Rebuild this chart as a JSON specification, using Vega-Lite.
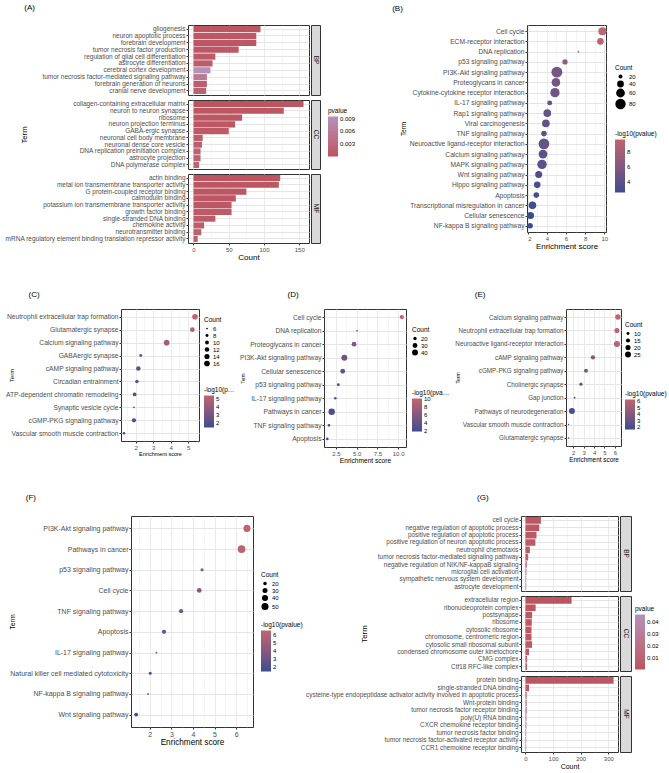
{
  "$schema": "https://vega.github.io/schema/vega-lite/v6.json",
  "background": "white",
  "padding": {"left": 2, "top": 3, "right": 2, "bottom": 2},
  "datasets": {
    "goA": [
      {"cat": "BP", "term": "gliogenesis", "count": 95, "p": 0.0002},
      {"cat": "BP", "term": "neuron apoptotic process", "count": 89, "p": 0.0004},
      {"cat": "BP", "term": "forebrain development", "count": 89, "p": 0.0003},
      {"cat": "BP", "term": "tumor necrosis factor production", "count": 64, "p": 0.0006},
      {"cat": "BP", "term": "regulation of glial cell differentiation", "count": 31, "p": 0.001},
      {"cat": "BP", "term": "astrocyte differentiation", "count": 27, "p": 0.0012},
      {"cat": "BP", "term": "cerebral cortex development", "count": 24, "p": 0.0095},
      {"cat": "BP", "term": "tumor necrosis factor-mediated signaling pathway", "count": 19, "p": 0.0058},
      {"cat": "BP", "term": "forebrain generation of neurons", "count": 19, "p": 0.0015},
      {"cat": "BP", "term": "cranial nerve development", "count": 18, "p": 0.0018},
      {"cat": "CC", "term": "collagen-containing extracellular matrix", "count": 156, "p": 0.0001},
      {"cat": "CC", "term": "neuron to neuron synapse", "count": 128, "p": 0.0002},
      {"cat": "CC", "term": "ribosome", "count": 69, "p": 0.0003},
      {"cat": "CC", "term": "neuron projection terminus", "count": 59, "p": 0.0005},
      {"cat": "CC", "term": "GABA-ergic synapse", "count": 50, "p": 0.0008},
      {"cat": "CC", "term": "neuronal cell body membrane", "count": 13, "p": 0.0012},
      {"cat": "CC", "term": "neuronal dense core vesicle", "count": 12, "p": 0.0015},
      {"cat": "CC", "term": "DNA replication preinitiation complex", "count": 10, "p": 0.0018},
      {"cat": "CC", "term": "astrocyte projection", "count": 10, "p": 0.002},
      {"cat": "CC", "term": "DNA polymerase complex", "count": 8, "p": 0.0022},
      {"cat": "MF", "term": "actin binding", "count": 123, "p": 0.0001},
      {"cat": "MF", "term": "metal ion transmembrane transporter activity", "count": 121, "p": 0.0002},
      {"cat": "MF", "term": "G protein-coupled receptor binding", "count": 75, "p": 0.0003},
      {"cat": "MF", "term": "calmodulin binding", "count": 60, "p": 0.0004},
      {"cat": "MF", "term": "potassium ion transmembrane transporter activity", "count": 54, "p": 0.0006},
      {"cat": "MF", "term": "growth factor binding", "count": 54, "p": 0.0008},
      {"cat": "MF", "term": "single-stranded DNA binding", "count": 31, "p": 0.001},
      {"cat": "MF", "term": "chemokine activity", "count": 15, "p": 0.0014},
      {"cat": "MF", "term": "neurotransmitter binding", "count": 11, "p": 0.0018},
      {"cat": "MF", "term": "mRNA regulatory element binding translation repressor activity", "count": 6, "p": 0.0021}
    ],
    "goG": [
      {"cat": "BP", "term": "cell cycle", "count": 56, "p": 0.001},
      {"cat": "BP", "term": "negative regulation of apoptotic process", "count": 50, "p": 0.002},
      {"cat": "BP", "term": "positive regulation of apoptotic process", "count": 40, "p": 0.003},
      {"cat": "BP", "term": "positive regulation of neuron apoptotic process", "count": 36, "p": 0.004},
      {"cat": "BP", "term": "neutrophil chemotaxis", "count": 16, "p": 0.005},
      {"cat": "BP", "term": "tumor necrosis factor-mediated signaling pathway", "count": 10, "p": 0.008},
      {"cat": "BP", "term": "negative regulation of NIK/NF-kappaB signaling", "count": 5, "p": 0.012},
      {"cat": "BP", "term": "microglial cell activation", "count": 4, "p": 0.035},
      {"cat": "BP", "term": "sympathetic nervous system development", "count": 3, "p": 0.04},
      {"cat": "BP", "term": "astrocyte development", "count": 3, "p": 0.042},
      {"cat": "CC", "term": "extracellular region", "count": 167, "p": 0.0005},
      {"cat": "CC", "term": "ribonucleoprotein complex", "count": 37, "p": 0.001},
      {"cat": "CC", "term": "postsynapse", "count": 24, "p": 0.002},
      {"cat": "CC", "term": "ribosome", "count": 23, "p": 0.002},
      {"cat": "CC", "term": "cytosolic ribosome", "count": 22, "p": 0.003},
      {"cat": "CC", "term": "chromosome, centromeric region", "count": 22, "p": 0.004},
      {"cat": "CC", "term": "cytosolic small ribosomal subunit", "count": 24, "p": 0.005},
      {"cat": "CC", "term": "condensed chromosome outer kinetochore", "count": 13, "p": 0.006},
      {"cat": "CC", "term": "CMG complex", "count": 6, "p": 0.008},
      {"cat": "CC", "term": "Ctf18 RFC-like complex", "count": 6, "p": 0.009},
      {"cat": "MF", "term": "protein binding", "count": 319, "p": 0.001},
      {"cat": "MF", "term": "single-stranded DNA binding", "count": 13, "p": 0.005},
      {"cat": "MF", "term": "cysteine-type endopeptidase activator activity involved in apoptotic process", "count": 5, "p": 0.02},
      {"cat": "MF", "term": "Wnt-protein binding", "count": 5, "p": 0.03},
      {"cat": "MF", "term": "tumor necrosis factor receptor binding", "count": 5, "p": 0.03},
      {"cat": "MF", "term": "poly(U) RNA binding", "count": 4, "p": 0.035},
      {"cat": "MF", "term": "CXCR chemokine receptor binding", "count": 4, "p": 0.035},
      {"cat": "MF", "term": "tumor necrosis factor binding", "count": 3, "p": 0.04},
      {"cat": "MF", "term": "tumor necrosis factor-activated receptor activity", "count": 3, "p": 0.04},
      {"cat": "MF", "term": "CCR1 chemokine receptor binding", "count": 3, "p": 0.045}
    ],
    "strips": [{"cat": "BP"}, {"cat": "CC"}, {"cat": "MF"}],
    "keggB": [
      {"term": "Cell cycle", "es": 9.8, "count": 52, "lp": 9.6},
      {"term": "ECM-receptor interaction", "es": 9.6, "count": 38, "lp": 9.2},
      {"term": "DNA replication", "es": 7.3, "count": 12, "lp": 8.0},
      {"term": "p53 signaling pathway", "es": 5.9, "count": 28, "lp": 6.6},
      {"term": "PI3K-Akt signaling pathway", "es": 5.05, "count": 88, "lp": 5.4},
      {"term": "Proteoglycans in cancer", "es": 4.95, "count": 58, "lp": 5.2},
      {"term": "Cytokine-cytokine receptor interaction", "es": 4.85, "count": 66, "lp": 5.0},
      {"term": "IL-17 signaling pathway", "es": 4.3, "count": 26, "lp": 4.3},
      {"term": "Rap1 signaling pathway", "es": 4.05, "count": 48, "lp": 4.4},
      {"term": "Viral carcinogenesis", "es": 3.9, "count": 48, "lp": 4.2},
      {"term": "TNF signaling pathway", "es": 3.7, "count": 30, "lp": 3.9},
      {"term": "Neuroactive ligand-receptor interaction", "es": 3.7, "count": 85, "lp": 4.4},
      {"term": "Calcium signaling pathway", "es": 3.6, "count": 60, "lp": 4.0},
      {"term": "MAPK signaling pathway", "es": 3.5, "count": 68, "lp": 3.9},
      {"term": "Wnt signaling pathway", "es": 3.15, "count": 42, "lp": 3.4},
      {"term": "Hippo signaling pathway", "es": 3.0, "count": 38, "lp": 3.2},
      {"term": "Apoptosis", "es": 2.9, "count": 30, "lp": 3.0},
      {"term": "Transcriptional misregulation in cancer", "es": 2.5, "count": 48, "lp": 2.9},
      {"term": "Cellular senescence", "es": 2.3, "count": 42, "lp": 2.7},
      {"term": "NF-kappa B signaling pathway", "es": 2.25, "count": 30, "lp": 2.6}
    ],
    "keggC": [
      {"term": "Neutrophil extracellular trap formation", "es": 5.39, "count": 16, "lp": 5.4},
      {"term": "Glutamatergic synapse", "es": 5.24, "count": 13, "lp": 5.1},
      {"term": "Calcium signaling pathway", "es": 3.77, "count": 16, "lp": 4.2},
      {"term": "GABAergic synapse", "es": 2.29, "count": 8, "lp": 2.4},
      {"term": "cAMP signaling pathway", "es": 2.15, "count": 12, "lp": 2.3},
      {"term": "Circadian entrainment", "es": 2.07, "count": 9, "lp": 2.1},
      {"term": "ATP-dependent chromatin remodeling", "es": 1.94, "count": 10, "lp": 2.0},
      {"term": "Synaptic vesicle cycle", "es": 1.9, "count": 6, "lp": 1.8},
      {"term": "cGMP-PKG signaling pathway", "es": 1.9, "count": 11, "lp": 1.8},
      {"term": "Vascular smooth muscle contraction", "es": 1.33, "count": 7, "lp": 1.4}
    ],
    "keggD": [
      {"term": "Cell cycle", "es": 10.45, "count": 26, "lp": 10.2},
      {"term": "DNA replication", "es": 5.04, "count": 13, "lp": 6.2},
      {"term": "Proteoglycans in cancer", "es": 4.68, "count": 30, "lp": 5.8},
      {"term": "PI3K-Akt signaling pathway", "es": 3.51, "count": 40, "lp": 4.6},
      {"term": "Cellular senescence", "es": 3.31, "count": 30, "lp": 4.2},
      {"term": "p53 signaling pathway", "es": 2.78, "count": 18, "lp": 3.3},
      {"term": "IL-17 signaling pathway", "es": 2.42, "count": 16, "lp": 2.8},
      {"term": "Pathways in cancer", "es": 1.98, "count": 46, "lp": 2.6},
      {"term": "TNF signaling pathway", "es": 1.65, "count": 16, "lp": 2.0},
      {"term": "Apoptosis", "es": 1.45, "count": 16, "lp": 1.8}
    ],
    "keggE": [
      {"term": "Calcium signaling pathway", "es": 6.29, "count": 22, "lp": 6.3},
      {"term": "Neutrophil extracellular trap formation", "es": 6.2, "count": 20, "lp": 6.1},
      {"term": "Neuroactive ligand-receptor interaction", "es": 6.2, "count": 26, "lp": 5.9},
      {"term": "cAMP signaling pathway", "es": 3.89, "count": 16, "lp": 4.1},
      {"term": "cGMP-PKG signaling pathway", "es": 3.22, "count": 14, "lp": 3.5},
      {"term": "Cholinergic synapse", "es": 2.74, "count": 11, "lp": 3.0},
      {"term": "Gap junction", "es": 2.13, "count": 7, "lp": 2.3},
      {"term": "Pathways of neurodegeneration", "es": 1.87, "count": 26, "lp": 2.0},
      {"term": "Vascular smooth muscle contraction", "es": 1.55, "count": 6, "lp": 1.6},
      {"term": "Glutamatergic synapse", "es": 1.55, "count": 6, "lp": 1.6}
    ],
    "keggF": [
      {"term": "PI3K-Akt signaling pathway", "es": 6.5, "count": 50, "lp": 6.6},
      {"term": "Pathways in cancer", "es": 6.25, "count": 58, "lp": 6.4},
      {"term": "p53 signaling pathway", "es": 4.42, "count": 18, "lp": 4.4},
      {"term": "Cell cycle", "es": 4.29, "count": 28, "lp": 4.2},
      {"term": "TNF signaling pathway", "es": 3.45, "count": 24, "lp": 3.5},
      {"term": "Apoptosis", "es": 2.66, "count": 24, "lp": 3.0},
      {"term": "IL-17 signaling pathway", "es": 2.31, "count": 12, "lp": 2.3},
      {"term": "Natural killer cell mediated cytotoxicity", "es": 2.02, "count": 17, "lp": 2.0},
      {"term": "NF-kappa B signaling pathway", "es": 1.92, "count": 12, "lp": 1.8},
      {"term": "Wnt signaling pathway", "es": 1.37, "count": 21, "lp": 1.5}
    ]
  },
  "spacing": 28,
  "resolve": {"scale": {"color": "independent", "size": "independent"}, "legend": {"color": "independent", "size": "independent"}},
  "vconcat": [
    {
      "spacing": -5,
      "resolve": {"scale": {"color": "independent", "size": "independent"}, "legend": {"color": "independent", "size": "independent"}},
      "hconcat": [
        {"width": 1, "height": 1, "data": {"name": "strips"}, "mark": {"type": "point", "opacity": 0}, "view": {"stroke": null}},
        {
          "spacing": 35,
          "resolve": {"scale": {"color": "independent", "size": "independent"}, "legend": {"color": "independent", "size": "independent"}},
          "hconcat": [
            {
              "title": {"text": "(A)", "dx": 20, "offset": 13},
              "columns": 2,
              "align": "each",
              "spacing": {"row": 3, "column": 0},
              "concat": [
                {
                  "width": 121, "height": 70,
                  "data": {"name": "goA"},
                  "transform": [{"filter": "datum.cat === 'BP'"}],
                  "mark": "bar",
                  "encoding": {
                    "y": {"field": "term", "type": "nominal", "sort": null, "title": null, "scale": {"paddingInner": 0.1, "paddingOuter": 0.15}, "axis": {"grid": true, "bandPosition": 0.5, "labelFontSize": 6.5}},
                    "x": {"field": "count", "type": "quantitative", "title": null, "scale": {"domain": [-7.8, 163.8], "nice": false, "zero": false},
                      "axis": {"labels": false, "ticks": false, "values": [0, 25, 50, 75, 100, 125, 150], "gridWidth": {"condition": {"test": "datum.value % 50 === 0", "value": 0.8}, "value": 0.4}}},
                    "color": {"field": "p", "type": "quantitative", "title": "pvalue", "scale": {"domain": [0.0001, 0.0095], "range": ["#BC5560", "#B391BA"], "interpolate": "lab"},
                      "legend": {"values": [0.003, 0.006, 0.009], "format": ".3f", "gradientLength": 40, "orient": "none", "legendX": 140, "legendY": 83}}
                  }
                },
                {
                  "width": 9, "height": 70,
                  "data": {"name": "strips"},
                  "transform": [{"filter": "datum.cat === 'BP'"}],
                  "view": {"fill": "#D9D9D9", "stroke": "#333333"},
                  "mark": {"type": "text", "angle": 90, "fontSize": 6.5, "color": "#1A1A1A"},
                  "encoding": {"text": {"field": "cat"}}
                },
                {
                  "width": 121, "height": 69,
                  "data": {"name": "goA"},
                  "transform": [{"filter": "datum.cat === 'CC'"}],
                  "mark": "bar",
                  "encoding": {
                    "y": {"field": "term", "type": "nominal", "sort": null, "title": "Term", "scale": {"paddingInner": 0.1, "paddingOuter": 0.15}, "axis": {"grid": true, "bandPosition": 0.5, "labelFontSize": 6.5, "titleFontSize": 7.7, "titlePadding": 44}},
                    "x": {"field": "count", "type": "quantitative", "title": null, "scale": {"domain": [-7.8, 163.8], "nice": false, "zero": false},
                      "axis": {"labels": false, "ticks": false, "values": [0, 25, 50, 75, 100, 125, 150], "gridWidth": {"condition": {"test": "datum.value % 50 === 0", "value": 0.8}, "value": 0.4}}},
                    "color": {"field": "p", "type": "quantitative", "title": "pvalue", "scale": {"domain": [0.0001, 0.0095], "range": ["#BC5560", "#B391BA"], "interpolate": "lab"}}
                  }
                },
                {
                  "width": 9, "height": 69,
                  "data": {"name": "strips"},
                  "transform": [{"filter": "datum.cat === 'CC'"}],
                  "view": {"fill": "#D9D9D9", "stroke": "#333333"},
                  "mark": {"type": "text", "angle": 90, "fontSize": 6.5, "color": "#1A1A1A"},
                  "encoding": {"text": {"field": "cat"}}
                },
                {
                  "width": 121, "height": 69,
                  "data": {"name": "goA"},
                  "transform": [{"filter": "datum.cat === 'MF'"}],
                  "mark": "bar",
                  "encoding": {
                    "y": {"field": "term", "type": "nominal", "sort": null, "title": null, "scale": {"paddingInner": 0.1, "paddingOuter": 0.15}, "axis": {"grid": true, "bandPosition": 0.5, "labelFontSize": 6.5}},
                    "x": {"field": "count", "type": "quantitative", "title": "Count", "scale": {"domain": [-7.8, 163.8], "nice": false, "zero": false},
                      "axis": {"values": [0, 25, 50, 75, 100, 125, 150], "titleFontSize": 8, "labelExpr": "datum.value % 50 === 0 ? datum.label : ''",
                        "tickOpacity": {"condition": {"test": "datum.value % 50 === 0", "value": 1}, "value": 0},
                        "gridWidth": {"condition": {"test": "datum.value % 50 === 0", "value": 0.8}, "value": 0.4}}},
                    "color": {"field": "p", "type": "quantitative", "title": "pvalue", "scale": {"domain": [0.0001, 0.0095], "range": ["#BC5560", "#B391BA"], "interpolate": "lab"}}
                  }
                },
                {
                  "width": 9, "height": 69,
                  "data": {"name": "strips"},
                  "transform": [{"filter": "datum.cat === 'MF'"}],
                  "view": {"fill": "#D9D9D9", "stroke": "#333333"},
                  "mark": {"type": "text", "angle": 90, "fontSize": 6.5, "color": "#1A1A1A"},
                  "encoding": {"text": {"field": "cat"}}
                }
              ]
            },
            {
              "title": {"text": "(B)", "dx": -8, "offset": 12},
              "width": 79, "height": 207,
              "data": {"name": "keggB"},
              "mark": {"type": "circle", "opacity": 1},
              "encoding": {
                "y": {"field": "term", "type": "nominal", "sort": null, "title": "Term", "scale": {"padding": 0.6}, "axis": {"grid": true, "labelFontSize": 6.7, "titleFontSize": 6.4, "titlePadding": 3}},
                "x": {"field": "es", "type": "quantitative", "title": "Enrichment score", "scale": {"domain": [1.93, 10.18], "nice": false, "zero": false},
                  "axis": {"values": [2, 3, 4, 5, 6, 7, 8, 9, 10], "titleFontSize": 8, "labelExpr": "datum.value % 2 === 0 ? format(datum.value, '.0f') : ''",
                    "tickOpacity": {"condition": {"test": "datum.value % 2 === 0", "value": 1}, "value": 0},
                    "gridWidth": {"condition": {"test": "datum.value % 2 === 0", "value": 0.8}, "value": 0.4}}},
                "size": {"field": "count", "type": "quantitative", "title": "Count", "scale": {"domain": [12, 88], "range": [3, 120], "zero": false}, "legend": {"values": [20, 40, 60, 80], "orient": "none", "legendX": 88, "legendY": 40}},
                "color": {"field": "lp", "type": "quantitative", "title": "-log10(pvalue)", "scale": {"range": ["#3A4C8E", "#BE6570"], "interpolate": "lab", "zero": false}, "legend": {"values": [4, 6, 8], "gradientLength": 53, "orient": "none", "legendX": 88, "legendY": 106}}
              }
            }
          ]
        }
      ]
    },
    {
      "spacing": -5,
      "resolve": {"scale": {"color": "independent", "size": "independent"}, "legend": {"color": "independent", "size": "independent"}},
      "hconcat": [
        {"width": 1, "height": 1, "data": {"name": "strips"}, "mark": {"type": "point", "opacity": 0}, "view": {"stroke": null}},
        {
          "spacing": 3,
          "resolve": {"scale": {"color": "independent", "size": "independent"}, "legend": {"color": "independent", "size": "independent"}},
          "hconcat": [
            {
              "title": {"text": "(C)", "dx": 23, "offset": 10},
              "width": 78, "height": 132,
              "data": {"name": "keggC"},
              "mark": {"type": "circle", "opacity": 1},
              "encoding": {
                "y": {"field": "term", "type": "nominal", "sort": null, "title": "Term", "scale": {"padding": 0.6}, "axis": {"grid": true, "labelFontSize": 6.7, "titleFontSize": 6, "titlePadding": -9}},
                "x": {"field": "es", "type": "quantitative", "title": "Enrichment score", "scale": {"domain": [1.16, 5.62], "nice": false, "zero": false},
                  "axis": {"values": [1.5, 2, 2.5, 3, 3.5, 4, 4.5, 5, 5.5], "titleFontSize": 5.5, "labelExpr": "datum.value % 1 === 0 ? format(datum.value, '.0f') : ''",
                    "tickOpacity": {"condition": {"test": "datum.value % 1 === 0", "value": 1}, "value": 0},
                    "gridWidth": {"condition": {"test": "datum.value % 1 === 0", "value": 0.8}, "value": 0.4}}},
                "size": {"field": "count", "type": "quantitative", "title": "Count", "scale": {"domain": [6, 16], "range": [3, 32], "zero": false}, "legend": {"values": [6, 8, 10, 12, 14, 16], "orient": "none", "legendX": 83, "legendY": 8}},
                "color": {"field": "lp", "type": "quantitative", "title": "-log10(pvalue)", "scale": {"range": ["#3A4C8E", "#BE6570"], "interpolate": "lab", "zero": false}, "legend": {"values": [2, 3, 4, 5], "gradientLength": 32, "titleLimit": 32, "orient": "none", "legendX": 83, "legendY": 78}}
              }
            },
            {
              "title": {"text": "(D)", "dx": 48, "offset": 10},
              "width": 82, "height": 138,
              "data": {"name": "keggD"},
              "mark": {"type": "circle", "opacity": 1},
              "encoding": {
                "y": {"field": "term", "type": "nominal", "sort": null, "title": "Term", "scale": {"padding": 0.6}, "axis": {"grid": true, "labelFontSize": 6.7, "titleFontSize": 4.5, "titlePadding": -6}},
                "x": {"field": "es", "type": "quantitative", "title": "Enrichment score", "scale": {"domain": [1.05, 10.95], "nice": false, "zero": false},
                  "axis": {"values": [1.25, 2.5, 3.75, 5, 6.25, 7.5, 8.75, 10], "titleFontSize": 6.6, "labelExpr": "datum.value % 2.5 === 0 ? format(datum.value, '.1f') : ''",
                    "tickOpacity": {"condition": {"test": "datum.value % 2.5 === 0", "value": 1}, "value": 0},
                    "gridWidth": {"condition": {"test": "datum.value % 2.5 === 0", "value": 0.8}, "value": 0.4}}},
                "size": {"field": "count", "type": "quantitative", "title": "Count", "scale": {"domain": [13, 46], "range": [3, 42], "zero": false}, "legend": {"values": [20, 30, 40], "orient": "none", "legendX": 88, "legendY": 18}},
                "color": {"field": "lp", "type": "quantitative", "title": "-log10(pvalue)", "scale": {"range": ["#3A4C8E", "#BE6570"], "interpolate": "lab", "zero": false}, "legend": {"values": [2, 4, 6, 8, 10], "gradientLength": 33, "titleLimit": 38, "orient": "none", "legendX": 88, "legendY": 81}}
              }
            },
            {
              "title": {"text": "(E)", "dx": 20, "offset": 10},
              "width": 55, "height": 137,
              "data": {"name": "keggE"},
              "mark": {"type": "circle", "opacity": 1},
              "encoding": {
                "y": {"field": "term", "type": "nominal", "sort": null, "title": "Term", "scale": {"padding": 0.6}, "axis": {"grid": true, "labelFontSize": 6.3, "titleFontSize": 5, "titlePadding": -6}},
                "x": {"field": "es", "type": "quantitative", "title": "Enrichment score", "scale": {"domain": [1.3, 6.59], "nice": false, "zero": false},
                  "axis": {"values": [1.5, 2, 2.5, 3, 3.5, 4, 4.5, 5, 5.5, 6, 6.5], "titleFontSize": 6.4, "labelExpr": "datum.value % 1 === 0 ? format(datum.value, '.0f') : ''",
                    "tickOpacity": {"condition": {"test": "datum.value % 1 === 0", "value": 1}, "value": 0},
                    "gridWidth": {"condition": {"test": "datum.value % 1 === 0", "value": 0.8}, "value": 0.4}}},
                "size": {"field": "count", "type": "quantitative", "title": "Count", "scale": {"domain": [6, 26], "range": [2, 36], "zero": false}, "legend": {"values": [10, 15, 20, 25], "orient": "none", "legendX": 59, "legendY": 13}},
                "color": {"field": "lp", "type": "quantitative", "title": "-log10(pvalue)", "scale": {"range": ["#3A4C8E", "#BE6570"], "interpolate": "lab", "zero": false}, "legend": {"values": [2, 3, 4, 5, 6], "gradientLength": 30, "orient": "none", "legendX": 59, "legendY": 82}}
              }
            }
          ]
        }
      ]
    },
    {
      "spacing": -1,
      "resolve": {"scale": {"color": "independent", "size": "independent"}, "legend": {"color": "independent", "size": "independent"}},
      "hconcat": [
        {"width": 1, "height": 1, "data": {"name": "strips"}, "mark": {"type": "point", "opacity": 0}, "view": {"stroke": null}},
        {
          "spacing": 1,
          "resolve": {"scale": {"color": "independent", "size": "independent"}, "legend": {"color": "independent", "size": "independent"}},
          "hconcat": [
            {
              "title": {"text": "(F)", "dx": 17, "offset": 14},
              "width": 122, "height": 211,
              "data": {"name": "keggF"},
              "mark": {"type": "circle", "opacity": 1},
              "encoding": {
                "y": {"field": "term", "type": "nominal", "sort": null, "title": "Term", "scale": {"padding": 0.6}, "axis": {"grid": true, "labelFontSize": 7, "titleFontSize": 7, "titlePadding": -6}},
                "x": {"field": "es", "type": "quantitative", "title": "Enrichment score", "scale": {"domain": [1.13, 6.78], "nice": false, "zero": false},
                  "axis": {"values": [1.5, 2, 2.5, 3, 3.5, 4, 4.5, 5, 5.5, 6, 6.5], "titleFontSize": 8.2, "labelFontSize": 7, "labelExpr": "datum.value % 1 === 0 ? format(datum.value, '.0f') : ''",
                    "tickOpacity": {"condition": {"test": "datum.value % 1 === 0", "value": 1}, "value": 0},
                    "gridWidth": {"condition": {"test": "datum.value % 1 === 0", "value": 0.8}, "value": 0.4}}},
                "size": {"field": "count", "type": "quantitative", "title": "Count", "scale": {"domain": [12, 58], "range": [3, 60], "zero": false}, "legend": {"values": [20, 30, 40, 50], "orient": "none", "legendX": 130, "legendY": 56}},
                "color": {"field": "lp", "type": "quantitative", "title": "-log10(pvalue)", "scale": {"range": ["#3A4C8E", "#BE6570"], "interpolate": "lab", "zero": false}, "legend": {"values": [2, 3, 4, 5, 6], "gradientLength": 41, "orient": "none", "legendX": 130, "legendY": 106}}
              }
            },
            {
              "title": {"text": "(G)", "dx": 172, "offset": 14},
              "columns": 2,
              "align": "each",
              "spacing": {"row": 3, "column": 0},
              "concat": [
                {
                  "width": 97, "height": 75,
                  "data": {"name": "goG"},
                  "transform": [{"filter": "datum.cat === 'BP'"}],
                  "mark": "bar",
                  "encoding": {
                    "y": {"field": "term", "type": "nominal", "sort": null, "title": null, "scale": {"paddingInner": 0.1, "paddingOuter": 0.15}, "axis": {"grid": true, "bandPosition": 0.5, "labelFontSize": 6.4}},
                    "x": {"field": "count", "type": "quantitative", "title": null, "scale": {"domain": [-16, 335], "nice": false, "zero": false},
                      "axis": {"labels": false, "ticks": false, "values": [0, 50, 100, 150, 200, 250, 300], "gridWidth": {"condition": {"test": "datum.value % 100 === 0", "value": 0.8}, "value": 0.4}}},
                    "color": {"field": "p", "type": "quantitative", "title": "pvalue", "scale": {"domain": [0.0005, 0.046], "range": ["#BC5560", "#B391BA"], "interpolate": "lab"},
                      "legend": {"values": [0.01, 0.02, 0.03, 0.04], "format": ".2f", "gradientLength": 55, "orient": "none", "legendX": 114, "legendY": 90}}
                  }
                },
                {
                  "width": 11, "height": 75,
                  "data": {"name": "strips"},
                  "transform": [{"filter": "datum.cat === 'BP'"}],
                  "view": {"fill": "#D9D9D9", "stroke": "#333333"},
                  "mark": {"type": "text", "angle": 90, "fontSize": 6.5, "color": "#1A1A1A"},
                  "encoding": {"text": {"field": "cat"}}
                },
                {
                  "width": 97, "height": 75,
                  "data": {"name": "goG"},
                  "transform": [{"filter": "datum.cat === 'CC'"}],
                  "mark": "bar",
                  "encoding": {
                    "y": {"field": "term", "type": "nominal", "sort": null, "title": "Term", "scale": {"paddingInner": 0.1, "paddingOuter": 0.15}, "axis": {"grid": true, "bandPosition": 0.5, "labelFontSize": 6.4, "titleFontSize": 7.9, "titlePadding": 28}},
                    "x": {"field": "count", "type": "quantitative", "title": null, "scale": {"domain": [-16, 335], "nice": false, "zero": false},
                      "axis": {"labels": false, "ticks": false, "values": [0, 50, 100, 150, 200, 250, 300], "gridWidth": {"condition": {"test": "datum.value % 100 === 0", "value": 0.8}, "value": 0.4}}},
                    "color": {"field": "p", "type": "quantitative", "title": "pvalue", "scale": {"domain": [0.0005, 0.046], "range": ["#BC5560", "#B391BA"], "interpolate": "lab"}}
                  }
                },
                {
                  "width": 11, "height": 75,
                  "data": {"name": "strips"},
                  "transform": [{"filter": "datum.cat === 'CC'"}],
                  "view": {"fill": "#D9D9D9", "stroke": "#333333"},
                  "mark": {"type": "text", "angle": 90, "fontSize": 6.5, "color": "#1A1A1A"},
                  "encoding": {"text": {"field": "cat"}}
                },
                {
                  "width": 97, "height": 76,
                  "data": {"name": "goG"},
                  "transform": [{"filter": "datum.cat === 'MF'"}],
                  "mark": "bar",
                  "encoding": {
                    "y": {"field": "term", "type": "nominal", "sort": null, "title": null, "scale": {"paddingInner": 0.1, "paddingOuter": 0.15}, "axis": {"grid": true, "bandPosition": 0.5, "labelFontSize": 6.4}},
                    "x": {"field": "count", "type": "quantitative", "title": "Count", "scale": {"domain": [-16, 335], "nice": false, "zero": false},
                      "axis": {"values": [0, 50, 100, 150, 200, 250, 300], "titleFontSize": 7, "labelExpr": "datum.value % 100 === 0 ? datum.label : ''",
                        "tickOpacity": {"condition": {"test": "datum.value % 100 === 0", "value": 1}, "value": 0},
                        "gridWidth": {"condition": {"test": "datum.value % 100 === 0", "value": 0.8}, "value": 0.4}}},
                    "color": {"field": "p", "type": "quantitative", "title": "pvalue", "scale": {"domain": [0.0005, 0.046], "range": ["#BC5560", "#B391BA"], "interpolate": "lab"}}
                  }
                },
                {
                  "width": 11, "height": 76,
                  "data": {"name": "strips"},
                  "transform": [{"filter": "datum.cat === 'MF'"}],
                  "view": {"fill": "#D9D9D9", "stroke": "#333333"},
                  "mark": {"type": "text", "angle": 90, "fontSize": 6.5, "color": "#1A1A1A"},
                  "encoding": {"text": {"field": "cat"}}
                }
              ]
            }
          ]
        }
      ]
    }
  ],
  "config": {
    "font": "Liberation Sans",
    "view": {"stroke": "#333333", "strokeWidth": 1},
    "title": {"fontSize": 8, "fontWeight": "normal", "anchor": "start", "color": "#000000"},
    "axis": {"domain": false, "gridColor": "#E5E5E5", "tickColor": "#333333", "tickSize": 2, "labelFontSize": 6, "labelColor": "#4D4D4D", "labelPadding": 1, "labelLimit": 400, "titleFontWeight": "normal", "titleColor": "#000000", "titlePadding": 1},
    "legend": {"titleFontSize": 6.5, "titleFontWeight": "normal", "titleColor": "#000000", "labelFontSize": 6, "labelColor": "#000000", "gradientThickness": 10, "gradientStrokeWidth": 0, "symbolFillColor": "#000000", "symbolStrokeWidth": 0, "symbolType": "circle", "rowPadding": 1, "titlePadding": 2, "labelOffset": 3, "offset": 7, "padding": 0}
  }
}
